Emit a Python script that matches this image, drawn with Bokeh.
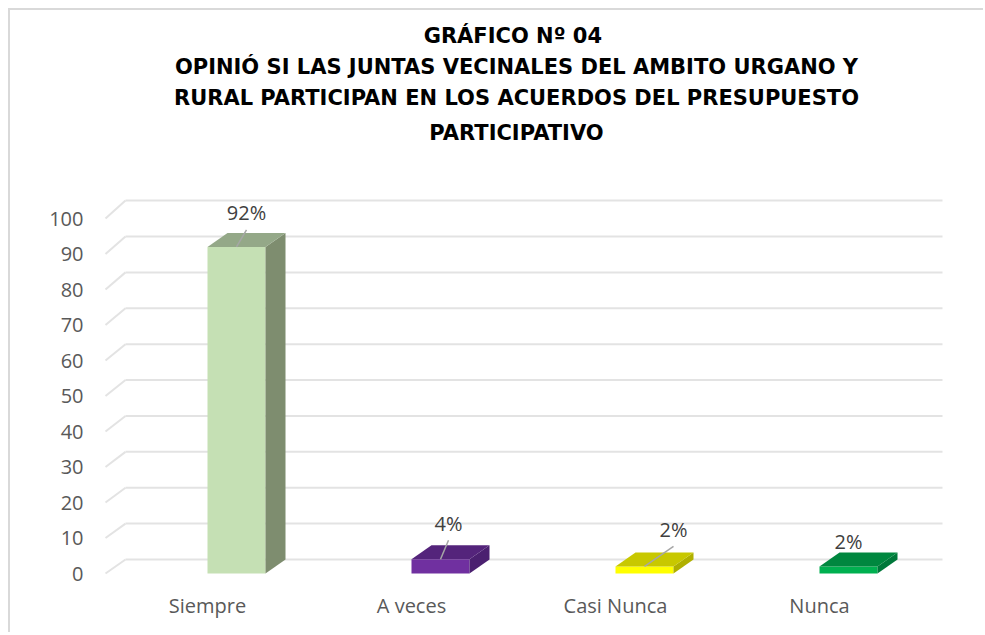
from bokeh.plotting import figure
from bokeh.models import Range1d, FixedTicker, Title, ColumnDataSource
from bokeh.embed import file_html
from bokeh.resources import INLINE

# ---------------- data ----------------
categories = ["Siempre", "A veces", "Casi Nunca", "Nunca"]
values = [92, 4, 2, 2]
value_labels = ["92%", "4%", "2%", "2%"]
y_ticks = [0, 10, 20, 30, 40, 50, 60, 70, 80, 90, 100]
title_lines = [
    "GRÁFICO  Nº 04",
    "OPINIÓ SI LAS JUNTAS VECINALES DEL AMBITO URGANO Y",
    "RURAL PARTICIPAN EN LOS ACUERDOS DEL PRESUPUESTO",
    "PARTICIPATIVO",
]

# ---------------- style ----------------
front_colors = ["#c5e0b4", "#7030a0", "#ffff00", "#00b050"]
side_colors = ["#7e8d6f", "#4b2070", "#b0b000", "#00783a"]
top_colors = ["#94a888", "#54247b", "#c8c800", "#00873f"]
label_dx = [10, 8, 29, 0]      # px offsets of value labels from bar top
label_dy = [34, 36, 37, 25]
has_leader = [True, True, True, False]
title_standoffs = [4, 6, 5, 12]

PX_X = 204.0     # px per category
PX_Y = 3.55      # px per value unit
BAR_W = 58 / PX_X
DEPTH_X = 20 / PX_X
DEPTH_Y = 14 / PX_Y
BACK_SCALE = 1.011
FLOOR_L = -102 / PX_X
BACK_R = 735 / PX_X

W, H = 975, 624
p = figure(width=W, height=H, output_backend="svg", toolbar_location=None,
           x_range=Range1d(-119 / PX_X, 737 / PX_X),
           y_range=Range1d(-12 / PX_Y, 423 / PX_Y),
           min_border_left=78, min_border_right=W - 934,
           min_border_top=140, min_border_bottom=H - 575)
# chart-area frame: light grey line on the left and top edges
p.styles = {"margin-left": "10px", "margin-top": "10px",
            "box-shadow": "-2px -2px 0px 0px #d9d9d9"}
p.outline_line_color = None
p.background_fill_color = "white"
p.border_fill_color = "white"
p.xgrid.visible = False
p.ygrid.visible = False

# back-wall gridlines with the 3D connectors
gy = [DEPTH_Y + t * BACK_SCALE for t in y_ticks]
n = len(y_ticks)
p.segment(x0=[FLOOR_L + DEPTH_X] * n, x1=[BACK_R] * n, y0=gy, y1=gy,
          line_color="#e3e3e3", line_width=2)
p.segment(x0=[FLOOR_L] * n, x1=[FLOOR_L + DEPTH_X] * n, y0=y_ticks, y1=gy,
          line_color="#e3e3e3", line_width=2)

# bars: front, side, top faces
idx = list(range(len(categories)))
front = ColumnDataSource(dict(left=idx, right=[i + BAR_W for i in idx],
                              top=values, bottom=[0] * len(idx), color=front_colors))
p.quad(left="left", right="right", top="top", bottom="bottom", source=front,
       fill_color="color", line_color=None)

side_xs, side_ys, top_xs, top_ys = [], [], [], []
for i, v in zip(idx, values):
    r = i + BAR_W
    side_xs.append([r, r + DEPTH_X, r + DEPTH_X, r])
    side_ys.append([0, DEPTH_Y, v + DEPTH_Y, v])
    top_xs.append([i, i + DEPTH_X, r + DEPTH_X, r])
    top_ys.append([v, v + DEPTH_Y, v + DEPTH_Y, v])
p.patches(xs=side_xs, ys=side_ys, fill_color=side_colors, line_color=None)
p.patches(xs=top_xs, ys=top_ys, fill_color=top_colors, line_color=None)

# value labels and leader lines
cx = [i + BAR_W / 2 for i in idx]
lx0, ly0, lx1, ly1 = [], [], [], []
for c, v, dx, dy, lead in zip(cx, values, label_dx, label_dy, has_leader):
    if lead:
        lx0.append(c + dx / PX_X)
        ly0.append(v + (dy - 17) / PX_Y)
        lx1.append(c)
        ly1.append(v)
p.segment(x0=lx0, y0=ly0, x1=lx1, y1=ly1, line_color="#a6a6a6", line_width=1.5)
p.text(x=cx, y=values, text=value_labels, x_offset=label_dx,
       y_offset=[-d for d in label_dy], text_align="center", text_baseline="middle",
       text_font_size="20px", text_color="#404040", text_font={"value": "Open Sans"})

# axes
p.yaxis.ticker = FixedTicker(ticks=y_ticks)
p.xaxis.ticker = FixedTicker(ticks=idx)
p.xaxis.major_label_overrides = {i: c for i, c in zip(idx, categories)}
for ax in (p.xaxis, p.yaxis):
    ax.axis_line_color = None
    ax.major_tick_line_color = None
    ax.minor_tick_line_color = None
    ax.major_tick_out = 0
    ax.major_tick_in = 0
    ax.minor_tick_out = 0
    ax.major_label_text_font = "Open Sans"
    ax.major_label_text_font_size = "20px"
    ax.major_label_text_color = "#595959"
p.yaxis.major_label_standoff = 5
p.xaxis.major_label_standoff = 6

# title (stacked, bottom line first)
for line, so in reversed(list(zip(title_lines, title_standoffs))):
    p.add_layout(Title(text=line, align="center", text_font="DejaVu Sans",
                       text_font_size="21px", text_font_style="bold",
                       text_color="#000000", standoff=so), "above")

open("out.html", "w").write(file_html(p, INLINE))
